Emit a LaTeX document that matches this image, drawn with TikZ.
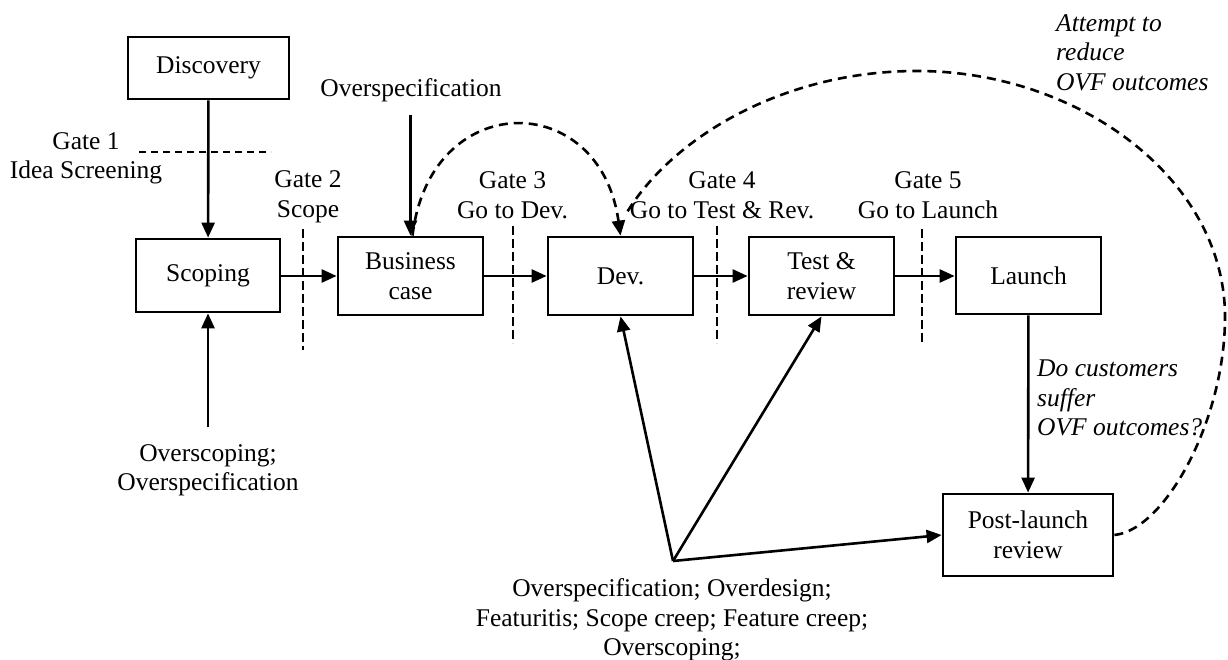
\documentclass[tikz,border=0pt]{standalone}
\usepackage{fontspec}
\setmainfont{Liberation Serif}
\usetikzlibrary{arrows.meta,calc}
\begin{document}
\begin{tikzpicture}[x=1pt,y=-1pt,
  txt/.style={font=\fontsize{25.5}{29.5}\selectfont},
  stage/.style={txt, draw, line width=2.8pt, inner sep=0pt, align=center},
  lbl/.style={txt, inner sep=0pt, align=center},
  note/.style={txt, inner sep=0pt, align=left, anchor=west, font=\fontsize{25.5}{29.5}\selectfont\itshape},
  tip/.style={-{Triangle[length=15pt,width=13pt]}},
  flow/.style={line width=2.6pt, tip},
  feed/.style={line width=2.6pt, dash pattern=on 9pt off 6pt},
  gateline/.style={line width=1.1pt, dash pattern=on 9pt off 4pt}
]
\useasboundingbox (0,0) rectangle (1228,660);

% stages
\node[stage, minimum width=161pt, minimum height=62pt] (disc) at (208.5,68) {Discovery};
\node[stage, minimum width=144pt, minimum height=73pt] (scop) at (208,275.5) {Scoping};
\node[stage, minimum width=145pt, minimum height=78pt] (biz) at (410.5,276) {Business\\case};
\node[stage, minimum width=145pt, minimum height=78pt] (dev) at (620.5,276) {Dev.};
\node[stage, minimum width=145pt, minimum height=78pt] (test) at (821.5,276) {Test \&\\review};
\node[stage, minimum width=145pt, minimum height=77pt] (launch) at (1028.5,275.5) {Launch};
\node[stage, minimum width=170pt, minimum height=82pt] (post) at (1028,535) {Post-launch\\review};

% gate labels
\node[lbl] (g1) at (86,158.5) {Gate 1\\Idea Screening};
\node[lbl] (g2) at (308,197) {Gate 2\\Scope};
\node[lbl] (g3) at (512.5,195) {Gate 3\\Go to Dev.};
\node[lbl] (g4) at (722,195) {Gate 4\\Go to Test \& Rev.};
\node[lbl] (g5) at (928,195) {Gate 5\\Go to Launch};

% gate markers
\draw[gateline, dash pattern=on 7pt off 5pt] (139,152) -- (271,152);
\draw[gateline] (303,229) -- (303,350);
\draw[gateline] (513,226) -- (513,343);
\draw[gateline] (717,226) -- (717,343);
\draw[gateline] (922,229) -- (922,345);

% problem labels
\node[lbl] (ospec) at (411,90) {Overspecification};
\node[lbl] (oscope) at (208,470.5) {Overscoping;\\Overspecification};
\node[lbl] (probs) at (672,620) {Overspecification; Overdesign;\\Featuritis; Scope creep; Feature creep;\\Overscoping;};
\node[note] (attempt) at (1056,52.5) {Attempt to\\reduce\\OVF outcomes};
\node[note] (suffer) at (1037,398) {Do customers\\suffer\\OVF outcomes?};

% free ends
\coordinate (ospecsrc) at (410.5,115);
\coordinate (oscopesrc) at (208,427);
\coordinate (hub) at (673,561);
\coordinate (bigend) at (626,214);

% main flow
\draw[flow] (disc) -- (scop);
\draw[flow] (scop.east |- 0,276) -- (biz.west);
\draw[flow] (biz) -- (dev);
\draw[flow] (dev) -- (test);
\draw[flow] (test.east) -- (launch.west |- 0,276);
\draw[flow] (launch) -- (post);

% problem arrows
\draw[flow] (oscopesrc) -- (scop.south);
\draw[flow] (ospecsrc) -- (biz.north);
\draw[flow] (hub) -- (dev.south);
\draw[flow] (hub) -- (test.south);
\draw[flow] (hub) -- (post.west);

% feedback loops
\draw[feed, tip] ($(biz.north)+(2,0)$) .. controls (430,88) and (600,88) .. (dev.north);
\draw[feed] (post.east) .. controls (1165,530) and (1225,420) .. (1225,317)
  .. controls (1225,180) and (1080,71) .. (917,71)
  .. controls (780,71) and (670,140) .. (bigend);
\end{tikzpicture}
\end{document}
